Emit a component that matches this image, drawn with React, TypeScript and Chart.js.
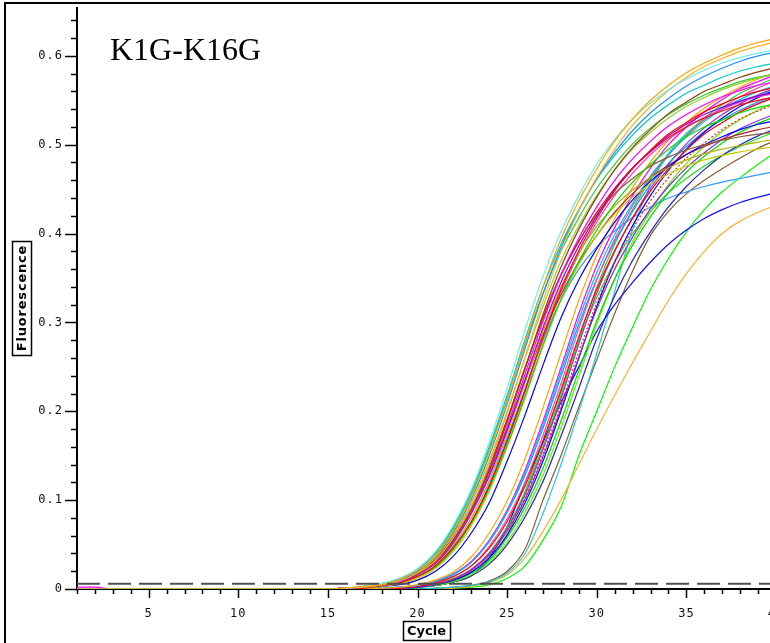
import React, { useEffect, useRef } from 'react';
import { Chart, registerables } from 'chart.js';

Chart.register(...registerables);

// ---- axes / labels ----
const cycles = [1, 2, 3, 4, 5, 6, 7, 8, 9, 10, 11, 12, 13, 14, 15, 16, 17, 18, 19, 20, 21, 22, 23, 24, 25, 26, 27, 28, 29, 30, 31, 32, 33, 34, 35, 36, 37, 38, 39, 40];
const xLabelTicks = [5, 10, 15, 20, 25, 30, 35, 40];
const yLabelTicks = [0, 0.1, 0.2, 0.3, 0.4, 0.5, 0.6];
const yMinorStep = 0.02;
const yMinorCount = 32;
const Y_MAX = 0.655;
const THRESHOLD = 0.006;
const TITLE = 'K1G-K16G';
const X_TITLE = 'Cycle';
const Y_TITLE = 'Fluorescence';

// ---- fluorescence curves (cycles 1..40) ----
const a1 = [0, 0, 0, 0, 0, 0, 0, 0, 0, 0, 0, 0, 0, 0, 0, .001, .003, .005, .011, .021, .038, .066, .104, .154, .213, .278, .340, .394, .437, .473, .504, .529, .550, .567, .581, .592, .601, .609, .615, .620];
const a2 = [0, 0, 0, 0, 0, 0, 0, 0, 0, 0, 0, 0, 0, 0, 0, .001, .003, .006, .012, .023, .042, .072, .112, .165, .226, .292, .352, .402, .443, .478, .506, .529, .547, .562, .574, .584, .592, .598, .603, .607];
const a3 = [0, 0, 0, 0, 0, 0, 0, 0, 0, 0, 0, 0, 0, 0, 0, .001, .002, .005, .009, .018, .032, .058, .093, .140, .198, .261, .324, .380, .426, .463, .495, .522, .543, .561, .576, .588, .597, .605, .611, .616];
const a4 = [0, 0, 0, 0, 0, 0, 0, 0, 0, 0, 0, 0, 0, 0, 0, .001, .002, .005, .010, .020, .037, .064, .101, .150, .208, .271, .332, .384, .426, .462, .491, .516, .536, .552, .566, .577, .586, .594, .600, .604];
const a5 = [0, 0, 0, 0, 0, 0, 0, 0, 0, 0, 0, 0, 0, 0, 0, .001, .003, .006, .012, .022, .041, .070, .109, .160, .218, .281, .340, .388, .427, .461, .488, .511, .530, .545, .558, .567, .576, .583, .588, .592];
const a6 = [0, 0, 0, 0, 0, 0, 0, 0, 0, 0, 0, 0, 0, 0, 0, .001, .002, .004, .009, .017, .031, .055, .089, .133, .188, .248, .309, .362, .405, .441, .472, .497, .517, .535, .548, .560, .568, .576, .582, .587];
const a7 = [0, 0, 0, 0, 0, 0, 0, 0, 0, 0, 0, 0, 0, 0, 0, .001, .002, .005, .010, .019, .035, .062, .097, .144, .200, .260, .318, .369, .409, .443, .471, .495, .514, .530, .543, .553, .562, .569, .575, .579];
const a8 = [.002, .002, 0, 0, 0, 0, 0, 0, 0, 0, 0, 0, 0, 0, 0, .001, .002, .004, .008, .016, .030, .054, .086, .130, .183, .242, .301, .353, .395, .430, .460, .484, .504, .521, .534, .545, .554, .561, .567, .571];
const a9 = [0, 0, 0, 0, 0, 0, 0, 0, 0, 0, 0, 0, 0, 0, 0, 0, .001, .004, .007, .014, .026, .047, .076, .116, .167, .224, .284, .337, .381, .417, .448, .473, .494, .512, .525, .537, .546, .554, .560, .565];
const a10 = [0, 0, 0, 0, 0, 0, 0, 0, 0, 0, 0, 0, 0, 0, 0, .001, .002, .004, .008, .016, .029, .052, .085, .127, .179, .236, .294, .345, .386, .420, .450, .474, .493, .510, .523, .534, .542, .549, .555, .559];
const a11 = [0, 0, 0, 0, 0, 0, 0, 0, 0, 0, 0, 0, 0, 0, 0, .001, .002, .005, .010, .018, .034, .059, .093, .138, .191, .249, .305, .353, .391, .424, .451, .474, .492, .508, .520, .530, .538, .545, .550, .554];
const a12 = [0, 0, 0, 0, 0, 0, 0, 0, 0, 0, 0, 0, 0, 0, 0, 0, .001, .004, .007, .014, .025, .045, .074, .113, .162, .217, .275, .326, .369, .404, .434, .458, .478, .495, .509, .520, .528, .536, .542, .546];
const a13 = [0, 0, 0, 0, 0, 0, 0, 0, 0, 0, 0, 0, 0, 0, 0, 0, .001, .003, .006, .012, .023, .042, .071, .110, .160, .215, .273, .325, .365, .398, .422, .441, .456, .467, .476, .483, .488, .492, .495, .498];
const a14 = [0, 0, 0, 0, 0, 0, 0, 0, 0, 0, 0, 0, 0, 0, 0, 0, .001, .004, .007, .014, .027, .049, .080, .122, .175, .232, .290, .340, .378, .408, .431, .449, .463, .474, .483, .490, .495, .499, .503, .506];
const a15 = [0, 0, 0, 0, 0, 0, 0, 0, 0, 0, 0, 0, 0, 0, 0, .001, .002, .004, .009, .017, .032, .056, .090, .135, .190, .249, .306, .354, .392, .422, .445, .462, .476, .486, .494, .500, .505, .509, .512, .514];
const a16 = [0, 0, 0, 0, 0, 0, 0, 0, 0, 0, 0, 0, 0, 0, 0, 0, .001, .003, .005, .010, .020, .037, .063, .097, .144, .196, .252, .305, .348, .383, .413, .438, .459, .475, .489, .500, .509, .517, .523, .527];
const a17 = [0, 0, 0, 0, 0, 0, 0, 0, 0, 0, 0, 0, 0, 0, 0, .001, .003, .006, .011, .022, .040, .068, .106, .157, .214, .276, .333, .380, .418, .451, .478, .501, .519, .534, .546, .556, .564, .571, .576, .580];
const a18 = [0, 0, 0, 0, 0, 0, 0, 0, 0, 0, 0, 0, 0, 0, 0, .001, .002, .004, .009, .017, .032, .055, .087, .130, .180, .234, .286, .331, .368, .398, .424, .445, .463, .477, .489, .498, .506, .512, .517, .521];
const a19 = [0, 0, 0, 0, 0, 0, 0, 0, 0, 0, 0, 0, 0, 0, 0, 0, .001, .004, .007, .014, .025, .046, .075, .115, .166, .222, .281, .334, .377, .413, .443, .468, .489, .506, .520, .531, .540, .548, .554, .558];

const m1 = [0, 0, 0, 0, 0, 0, 0, 0, 0, 0, 0, 0, 0, 0, 0, 0, 0, .001, .002, .005, .010, .019, .036, .063, .099, .147, .204, .265, .325, .376, .417, .452, .481, .505, .525, .541, .554, .565, .574, .581];
const m2 = [0, 0, 0, 0, 0, 0, 0, 0, 0, 0, 0, 0, 0, 0, 0, 0, 0, .001, .002, .004, .009, .017, .030, .054, .087, .131, .185, .244, .304, .356, .399, .434, .465, .489, .509, .526, .540, .551, .560, .567];
const m3 = [0, 0, 0, 0, 0, 0, 0, 0, 0, 0, 0, 0, 0, 0, 0, 0, 0, .001, .002, .004, .009, .017, .031, .055, .089, .134, .189, .249, .310, .364, .407, .443, .474, .500, .520, .537, .551, .563, .571, .579];
const m4 = [0, 0, 0, 0, 0, 0, 0, 0, 0, 0, 0, 0, 0, 0, 0, 0, 0, 0, .001, .003, .007, .014, .026, .046, .076, .116, .167, .224, .284, .337, .381, .417, .448, .473, .494, .512, .525, .537, .546, .554];
const m5 = [0, 0, 0, 0, 0, 0, 0, 0, 0, 0, 0, 0, 0, 0, 0, 0, 0, 0, .001, .003, .006, .011, .021, .039, .066, .103, .152, .207, .267, .322, .368, .405, .437, .463, .485, .502, .517, .529, .538, .546];
const m6 = [0, 0, 0, 0, 0, 0, 0, 0, 0, 0, 0, 0, 0, 0, 0, 0, 0, 0, .001, .003, .005, .011, .021, .038, .065, .101, .149, .203, .261, .315, .360, .396, .428, .453, .474, .491, .506, .518, .527, .535];
const m7 = [0, 0, 0, 0, 0, 0, 0, 0, 0, 0, 0, 0, 0, 0, 0, 0, 0, 0, .001, .002, .005, .010, .019, .035, .061, .097, .144, .200, .260, .318, .368, .409, .443, .471, .495, .514, .530, .543, .553, .562];
const m8 = [0, 0, 0, 0, 0, 0, 0, 0, 0, 0, 0, 0, 0, 0, 0, 0, 0, 0, .001, .002, .005, .009, .018, .033, .058, .092, .136, .189, .246, .302, .349, .387, .419, .446, .469, .487, .502, .514, .524, .532];
const m9 = [0, 0, 0, 0, 0, 0, 0, 0, 0, 0, 0, 0, 0, 0, 0, 0, 0, 0, .001, .002, .004, .008, .016, .030, .053, .086, .128, .181, .239, .298, .349, .391, .425, .455, .479, .498, .515, .528, .539, .548];
const m10 = [0, 0, 0, 0, 0, 0, 0, 0, 0, 0, 0, 0, 0, 0, 0, 0, 0, 0, 0, .002, .004, .008, .015, .028, .050, .081, .121, .172, .226, .282, .330, .370, .402, .430, .453, .472, .488, .500, .510, .518];
const m11 = [0, 0, 0, 0, 0, 0, 0, 0, 0, 0, 0, 0, 0, 0, 0, 0, 0, 0, .001, .004, .007, .014, .026, .048, .079, .120, .173, .231, .293, .348, .394, .431, .463, .489, .510, .528, .542, .554, .564, .572];
const m12 = [0, 0, 0, 0, 0, 0, 0, 0, 0, 0, 0, 0, 0, 0, 0, 0, 0, .001, .002, .004, .008, .016, .030, .053, .086, .128, .181, .239, .298, .349, .391, .425, .455, .479, .498, .515, .528, .539, .548, .555];
const m13 = [0, 0, 0, 0, 0, 0, 0, 0, 0, 0, 0, 0, 0, 0, 0, 0, 0, 0, .001, .003, .006, .011, .022, .040, .068, .106, .157, .214, .276, .333, .380, .418, .451, .478, .501, .519, .534, .546, .556, .564];
const m14 = [0, 0, 0, 0, 0, 0, 0, 0, 0, 0, 0, 0, 0, 0, 0, 0, 0, 0, .001, .003, .006, .012, .022, .041, .070, .109, .160, .218, .281, .340, .388, .427, .461, .488, .511, .530, .545, .558, .567, .576];

const s1 = [0, 0, 0, 0, 0, 0, 0, 0, 0, 0, 0, 0, 0, 0, 0, .001, .002, .004, .008, .014, .025, .045, .075, .118, .170, .225, .280, .325, .360, .385, .403, .418, .430, .440, .447, .453, .458, .462, .466, .470];
const s2 = [0, 0, 0, 0, 0, 0, 0, 0, 0, 0, 0, 0, 0, 0, 0, 0, 0, 0, .001, .002, .004, .008, .015, .035, .070, .120, .165, .210, .250, .290, .320, .345, .368, .388, .404, .417, .427, .435, .441, .446];
const s3 = [0, 0, 0, 0, 0, 0, 0, 0, 0, 0, 0, 0, 0, 0, 0, 0, 0, 0, 0, 0, .001, .002, .004, .008, .018, .040, .085, .140, .200, .265, .335, .405, .455, .490, .513, .528, .540, .549, .556, .561];
const s4 = [0, 0, 0, 0, 0, 0, 0, 0, 0, 0, 0, 0, 0, 0, 0, 0, 0, 0, .001, .002, .004, .008, .016, .032, .060, .110, .165, .222, .280, .328, .368, .400, .425, .446, .462, .476, .488, .498, .507, .515];
const l1 = [0, 0, 0, 0, 0, 0, 0, 0, 0, 0, 0, 0, 0, 0, 0, 0, 0, 0, 0, 0, .001, .002, .004, .009, .020, .045, .100, .150, .205, .258, .310, .358, .398, .425, .445, .460, .473, .485, .496, .505];
const l2 = [0, 0, 0, 0, 0, 0, 0, 0, 0, 0, 0, 0, 0, 0, 0, 0, 0, 0, 0, 0, 0, .001, .003, .007, .016, .035, .065, .100, .140, .180, .218, .255, .290, .325, .355, .380, .400, .414, .424, .432];
const l3 = [0, 0, 0, 0, 0, 0, 0, 0, 0, 0, 0, 0, 0, 0, 0, 0, 0, 0, 0, 0, 0, .001, .002, .005, .012, .026, .055, .092, .150, .200, .250, .295, .337, .372, .402, .427, .447, .463, .478, .492];

const seriesValues = [a1, a2, a3, a4, a5, a6, a7, a8, a9, a10, a11, a12, a13, a14, a15, a16, a17, a18, a19,
  m1, m2, m3, m4, m5, m6, m7, m8, m9, m10, m11, m12, m13, m14, s1, s2, s3, s4, l1, l2, l3];
const seriesColors = ['#ffa500', '#70eef0', '#ffb020', '#1e90ff', '#00c8c8', '#8b4513', '#9acd32', '#ff00ff', '#ff0000', '#9400d3',
  '#ee1010', '#00e000', '#c8c800', '#b0b000', '#8b5a2b', '#0000ff', '#32cd32', '#b22222', '#ff33cc',
  '#ffa500', '#00bfff', '#ff00ff', '#ff0000', '#ff2020', '#8a2be2', '#0000ff', '#00dd00', '#66ee00', '#2020cc',
  '#ff44aa', '#1e90ff', '#9932cc', '#32cd32', '#3399ff', '#1010ff', '#20c8d8', '#22dd22', '#8b5a2b', '#ffb030', '#00ff00'];
const dottedSeries = [23];

const decorPlugin = {
  id: 'decor',
  beforeDraw(chart: any) {
    const ctx = chart.ctx;
    ctx.save();
    ctx.fillStyle = '#ffffff';
    ctx.fillRect(0, 0, chart.width, chart.height);
    ctx.restore();
    // spaced-out tick labels, as in the reference
    ctx.letterSpacing = '1px';
  },
  beforeDatasetsDraw(chart: any) {
    const { ctx, chartArea } = chart;
    const xs = chart.scales.x;
    const ys = chart.scales.y;
    ctx.letterSpacing = '0px';
    ctx.save();
    ctx.strokeStyle = '#000';
    ctx.lineWidth = 2;
    ctx.beginPath();
    ctx.moveTo(chartArea.left, chartArea.top);
    ctx.lineTo(chartArea.left, chartArea.bottom);
    ctx.lineTo(chartArea.right + 20, chartArea.bottom);
    ctx.stroke();
    ctx.lineWidth = 1.5;
    for (let i = 0; i <= yMinorCount; i++) {
      const v = i * yMinorStep;
      const major = yLabelTicks.some((t) => Math.abs(t - v) < 1e-9);
      const py = Math.round(ys.getPixelForValue(v)) + 0.5;
      ctx.beginPath();
      ctx.moveTo(chartArea.left, py);
      ctx.lineTo(chartArea.left - (major ? 12 : 6), py);
      ctx.stroke();
    }
    for (const c of cycles) {
      const major = xLabelTicks.includes(c);
      const px = Math.round(xs.getPixelForValue(c)) + 0.5;
      ctx.beginPath();
      ctx.moveTo(px, chartArea.bottom);
      ctx.lineTo(px, chartArea.bottom + (major ? 9 : 5));
      ctx.stroke();
    }
    ctx.restore();
  },
  afterDraw(chart: any) {
    const { ctx, chartArea } = chart;
    ctx.save();
    ctx.letterSpacing = '0px';
    ctx.strokeStyle = '#000';
    ctx.lineWidth = 2;
    ctx.strokeRect(5, 3, chart.width + 20, chart.height + 20);
    ctx.fillStyle = '#000';
    ctx.font = '32px "Liberation Serif", "Times New Roman", serif';
    ctx.textAlign = 'left';
    ctx.textBaseline = 'alphabetic';
    ctx.fillText(TITLE, chartArea.left + 33, chartArea.top + 53);
    ctx.font = 'bold 13px "DejaVu Sans", sans-serif';
    ctx.textAlign = 'center';
    ctx.textBaseline = 'middle';
    ctx.lineWidth = 1.5;
    const cx = (chartArea.left + chartArea.right) / 2;
    const cy = chartArea.bottom + 42;
    const wx = ctx.measureText(X_TITLE).width;
    ctx.fillText(X_TITLE, cx, cy + 1);
    ctx.strokeRect(Math.round(cx - wx / 2 - 4) + 0.5, cy - 9.5, Math.round(wx + 8), 19);
    const yc = (chartArea.top + chartArea.bottom) / 2;
    const ycx = 22;
    ctx.letterSpacing = '0.8px';
    const wy = ctx.measureText(Y_TITLE).width;
    ctx.save();
    ctx.translate(ycx, yc);
    ctx.rotate(-Math.PI / 2);
    ctx.fillText(Y_TITLE, 0, 1);
    ctx.restore();
    ctx.strokeRect(ycx - 9.5, Math.round(yc - wy / 2 - 4) + 0.5, 19, Math.round(wy + 8));
    ctx.restore();
  },
};

export default function App() {
  const ref = useRef<HTMLCanvasElement>(null);
  useEffect(() => {
    if (!ref.current) return;
    const datasets: any[] = [
      {
        label: 'Threshold',
        data: [{ x: cycles[0], y: THRESHOLD }, { x: cycles[cycles.length - 1], y: THRESHOLD }],
        borderColor: '#505050',
        borderWidth: 2,
        borderDash: [23, 8],
        pointRadius: 0,
      },
    ];
    seriesValues.forEach((vals, k) => {
      datasets.push({
        label: 'Well ' + (k + 1),
        data: vals.map((v, i) => ({ x: cycles[i], y: v })),
        borderColor: seriesColors[k],
        borderWidth: 1.2,
        borderDash: dottedSeries.includes(k) ? [2, 2] : [],
        pointRadius: 0,
        cubicInterpolationMode: 'monotone',
      });
    });
    const yTickValues: number[] = [];
    for (let i = 0; i <= yMinorCount; i++) yTickValues.push(+(i * yMinorStep).toFixed(2));
    const tickFont = { family: '"DejaVu Sans Mono", monospace', size: 12 };
    const chart = new Chart(ref.current, {
      type: 'line',
      data: { datasets },
      options: {
        animation: false,
        responsive: false,
        events: [],
        layout: { padding: { left: 0, right: 14, top: 7, bottom: 0 } },
        plugins: { legend: { display: false }, tooltip: { enabled: false }, title: { display: false } },
        scales: {
          x: {
            type: 'linear',
            min: 1,
            max: 40,
            grid: { display: false, drawTicks: false },
            border: { display: false },
            afterBuildTicks: (s: any) => { s.ticks = cycles.map((v) => ({ value: v })); },
            afterFit: (s: any) => { s.height = 54; s.paddingLeft = 0; s.paddingRight = 0; },
            ticks: {
              autoSkip: false,
              maxRotation: 0,
              minRotation: 0,
              padding: 18,
              color: '#111',
              font: tickFont,
              callback: (v: any) => (xLabelTicks.includes(Number(v)) ? String(v) : ''),
            },
          },
          y: {
            type: 'linear',
            min: 0,
            max: Y_MAX,
            grid: { display: false, drawTicks: false },
            border: { display: false },
            afterBuildTicks: (s: any) => { s.ticks = yTickValues.map((v) => ({ value: v })); },
            afterFit: (s: any) => { s.width = 77; s.paddingTop = 0; s.paddingBottom = 0; },
            ticks: {
              autoSkip: false,
              padding: 14,
              color: '#111',
              font: tickFont,
              callback: (v: any) => {
                const n = Number(v);
                if (!yLabelTicks.some((t) => Math.abs(t - n) < 1e-9)) return '';
                return n === 0 ? '0' : n.toFixed(1);
              },
            },
          },
        },
      } as any,
      plugins: [decorPlugin],
    });
    return () => chart.destroy();
  }, []);
  return (
    <div style={{ position: 'fixed', left: 0, top: 0, width: 770, height: 643, overflow: 'hidden', background: '#fff' }}>
      <canvas ref={ref} width={790} height={643} style={{ display: 'block', width: 790, height: 643 }} />
    </div>
  );
}
